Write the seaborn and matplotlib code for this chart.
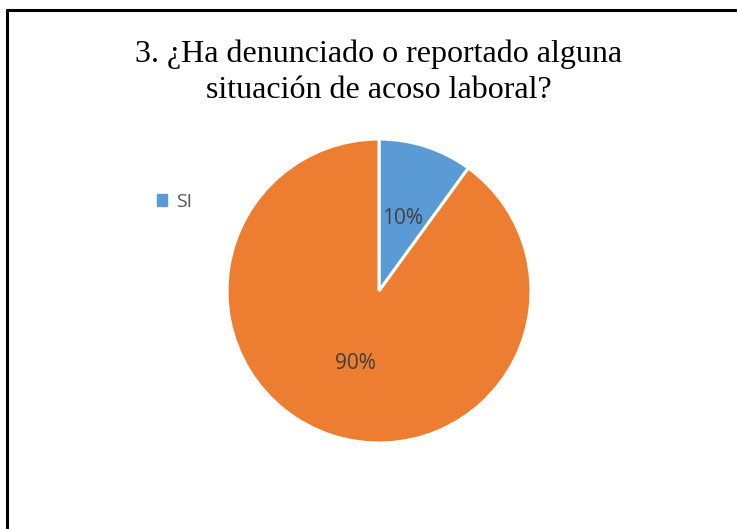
import matplotlib
matplotlib.use("Agg")
import matplotlib.pyplot as plt
import seaborn as sns
import numpy as np
from matplotlib.lines import Line2D
from matplotlib.patches import Rectangle

categories = ["SI", "NO"]
values = [10, 90]
pct_labels = ["10%", "90%"]
colors = ["#5B9BD5", "#ED7D31"]
title = "3. ¿Ha denunciado o reportado alguna\nsituación de acoso laboral?"

sns.set_theme(style="white")
plt.rcParams["font.family"] = ["Open Sans", "DejaVu Sans"]

W, H = 737, 529
fig = plt.figure(figsize=(W / 100, H / 100), dpi=100)
fig.patch.set_facecolor("white")

# frame lines (left and top)
fig.add_artist(Line2D([7 / W, 7 / W], [0, 1 - 10 / H], transform=fig.transFigure,
                      color="black", lw=2.2))
fig.add_artist(Line2D([7 / W, 1.0], [1 - 10 / H, 1 - 10 / H], transform=fig.transFigure,
                      color="black", lw=2.2))

cx, cy, r = 379, 291, 152
ax = fig.add_axes([(cx - r) / W, 1 - (cy + r) / H, 2 * r / W, 2 * r / H])
wedges, texts = ax.pie(values, colors=sns.color_palette(colors), startangle=90,
                       counterclock=False, radius=1,
                       wedgeprops=dict(edgecolor="white", linewidth=2.2))
for w, lab in zip(wedges, pct_labels):
    ang = np.deg2rad((w.theta1 + w.theta2) / 2)
    ax.text(0.5 * np.cos(ang), 0.5 * np.sin(ang), lab, ha="center", va="center",
            fontsize=15, color="#404040")
ax.set_xlim(-1, 1)
ax.set_ylim(-1, 1)
ax.set_aspect("equal")
ax.axis("off")

fig.text(cx / W, 1 - 72 / H, title, ha="center", va="center", fontsize=23,
         family=["Liberation Serif"], color="black", linespacing=1.3)

# legend (only SI visible)
fig.legend([Rectangle((0, 0), 1, 1, color=colors[0])], [categories[0]],
           loc="center left", bbox_to_anchor=(139 / W, 1 - 202 / H), frameon=False,
           fontsize=14, handlelength=0.55, handleheight=0.55, handletextpad=0.45,
           labelcolor="#595959")

fig.savefig("out.png", dpi=100, facecolor="white")
